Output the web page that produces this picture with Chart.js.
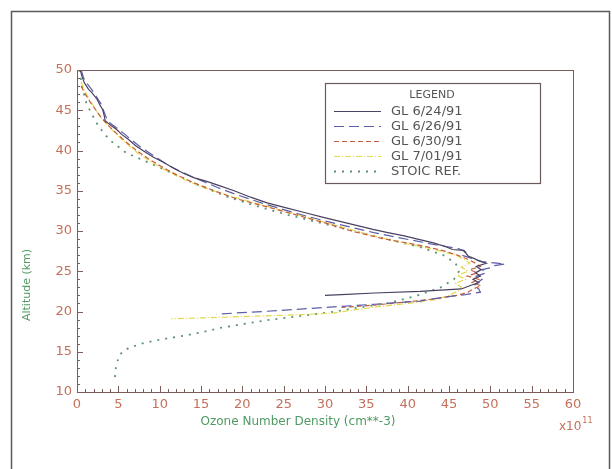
<!DOCTYPE html>
<html>
<head>
<meta charset="utf-8">
<script src="https://cdn.jsdelivr.net/npm/chart.js@4"></script>
<style>
  html, body { margin: 0; padding: 0; background: #fff; }
  #wrap { position: relative; width: 612px; height: 469px; }
</style>
</head>
<body>
<div id="wrap"><canvas id="c" width="612" height="469"></canvas></div>
<script>
// ozone profiles, density in 1e11 cm^-3, altitude in km
const labels = ["GL 6/24/91", "GL 6/26/91", "GL 6/30/91", "GL 7/01/91", "STOIC REF."];

const alt0624 = [50, 49.2, 48.4, 47.6, 47.2, 46.4, 45.6, 45.1, 44.3, 43.7, 43.2, 42.6, 42.0, 41.4, 40.6, 39.9, 39.2, 38.5, 37.8, 37.2, 36.6, 36.2, 35.6, 35.0, 34.2, 33.5, 32.9, 32.3, 31.7, 31.2, 30.7, 30.2, 29.8, 29.4, 29.0, 28.55, 28.3, 28.1, 27.7, 27.6, 26.9, 26.6, 26.25, 26.0, 25.6, 25.2, 24.8, 24.4, 24.0, 23.6, 23.2, 22.8, 22.5, 22.3, 22.1, 22.0];
const dens0624 = [0.4, 0.6, 0.9, 1.4, 1.8, 2.4, 2.8, 3.1, 3.3, 3.4, 4.0, 4.8, 5.4, 6.2, 7.1, 8.1, 9.2, 10.5, 11.7, 12.8, 14.2, 15.6, 17.3, 19.0, 21.0, 23.0, 25.2, 27.5, 29.8, 31.8, 33.8, 35.8, 37.6, 39.6, 41.2, 43.0, 43.8, 44.5, 45.4, 46.8, 47.3, 48.0, 48.7, 49.5, 48.3, 48.9, 48.2, 48.8, 47.9, 48.6, 47.5, 46.5, 41.5, 36.0, 32.0, 30.0];

const alt0626 = [50, 49.0, 48.2, 47.4, 46.6, 45.8, 45.0, 44.2, 43.5, 42.8, 42.0, 41.3, 40.5, 39.8, 39.0, 38.2, 37.5, 36.8, 36.1, 35.4, 34.7, 34.0, 33.3, 32.6, 31.9, 31.2, 30.5, 29.8, 29.2, 28.6, 28.2, 27.8, 27.4, 27.0, 26.6, 26.2, 25.9, 25.7, 25.5, 25.2, 24.8, 24.4, 24.0, 23.6, 23.2, 22.8, 22.4, 22.1, 21.8, 21.3, 20.9, 20.6, 20.3, 20.0, 19.8, 19.65];
const dens0626 = [0.5, 0.8, 1.3, 1.9, 2.4, 2.9, 3.2, 3.5, 3.9, 4.8, 5.8, 6.6, 7.6, 8.6, 9.8, 11.0, 12.3, 13.8, 15.4, 17.0, 18.8, 20.8, 22.9, 25.2, 27.6, 30.2, 33.0, 35.9, 38.8, 41.8, 43.8, 46.2, 47.0, 46.5, 47.8, 49.0, 51.8, 50.5, 50.3, 49.0, 49.5, 48.3, 49.0, 48.5, 48.0, 48.6, 48.8, 47.0, 44.5, 41.5, 36.0, 31.5, 27.0, 22.5, 19.0, 16.9];

const alt0630 = [48.0, 47.0, 46.0, 45.0, 44.0, 43.0, 42.0, 41.0, 40.0, 39.0, 38.0, 37.0, 36.0, 35.0, 34.0, 33.0, 32.0, 31.0, 30.0, 29.0, 28.5, 28.0, 27.5, 27.0, 26.5, 26.0, 25.6, 25.2, 24.8, 24.4, 24.0, 23.6, 23.2, 22.8, 22.4, 22.0, 21.6, 21.2, 20.8, 20.5];
const dens0630 = [0.5, 1.0, 1.6, 2.3, 3.0, 3.9, 4.9, 6.0, 7.2, 8.6, 10.2, 12.0, 14.1, 16.6, 19.3, 23.0, 26.5, 30.0, 33.2, 37.2, 40.0, 42.5, 44.5, 46.0, 47.3, 48.2, 48.8, 47.5, 48.4, 47.2, 48.6, 47.8, 48.9, 47.9, 47.3, 46.0, 43.5, 40.0, 36.0, 32.0];

const alt0701 = [48.5, 47.5, 46.5, 45.5, 44.5, 43.5, 42.5, 41.5, 40.5, 39.5, 38.5, 37.5, 36.5, 35.5, 34.5, 33.5, 32.5, 31.5, 30.5, 29.5, 28.5, 28.0, 27.5, 27.0, 26.5, 26.0, 25.5, 25.0, 24.5, 24.0, 23.5, 23.0, 22.5, 22.0, 21.5, 21.0, 20.6, 20.2, 19.8, 19.6, 19.4, 19.2, 19.1];
const dens0701 = [0.5, 0.9, 1.4, 2.0, 2.6, 3.4, 4.3, 5.3, 6.4, 7.6, 9.1, 10.8, 12.8, 15.0, 18.0, 21.5, 25.0, 28.5, 32.0, 35.5, 39.5, 42.0, 44.0, 45.8, 46.8, 47.5, 46.5, 47.3, 46.0, 47.0, 45.8, 46.5, 46.0, 45.0, 43.5, 40.0, 36.5, 33.5, 31.0, 27.0, 21.0, 15.0, 11.4];

const altStoic = [50, 48, 46, 45.1, 43, 41.3, 39.7, 37.9, 36.0, 34.3, 33.1, 32, 31, 30, 29, 28, 27, 26, 25, 24, 23, 22, 21, 20.4, 20.0, 19.5, 19.0, 18.5, 18.0, 17.5, 17.0, 16.5, 16.0, 15.5, 15.0, 14.5, 14.0, 13.0, 12.0, 11.1];
const densStoic = [0.3, 0.6, 1.1, 1.5, 2.6, 3.95, 5.96, 10.0, 14.0, 18.05, 21.7, 25.5, 29.5, 33.5, 37.5, 41.5, 44.3, 45.8, 46.2, 45.6, 44.0, 41.2, 37.5, 33.5, 31.3, 27.5, 23.5, 20.5, 17.5, 15.4, 13.0, 10.0, 7.8, 6.3, 5.5, 5.1, 4.95, 4.7, 4.6, 4.55];

const xTicks = { min: 0, max: 60, step: 5, minor: 1 };
const yTicks = { min: 10, max: 50, step: 5, minor: 1 };

const axisColor = "#7a5c5a";
const tickColor = "#c4705a";
const titleColor = "#4f9a62";
const fontFamily = "'DejaVu Sans', sans-serif";

function pts(xs, ys) {
  return xs.map((x, i) => ({ x: x, y: ys[i] }));
}

function series(label, xs, ys, color, dash, width) {
  return {
    label: label,
    data: pts(xs, ys),
    showLine: true,
    borderColor: color,
    backgroundColor: color,
    borderWidth: width || 1.2,
    borderDash: dash,
    pointRadius: 0,
    tension: 0,
  };
}

// frame, inward ticks, titles, boxed legend
const decor = {
  id: "decor",
  beforeDraw(chart) {
    const ctx = chart.ctx;
    ctx.save();
    ctx.strokeStyle = "#5a5a5a";
    ctx.lineWidth = 1.5;
    ctx.beginPath();
    ctx.moveTo(11.5, 480);
    ctx.lineTo(11.5, 11.5);
    ctx.lineTo(609.5, 11.5);
    ctx.lineTo(609.5, 480);
    ctx.stroke();
    ctx.restore();
  },
  afterDraw(chart) {
    const ctx = chart.ctx;
    const a = chart.chartArea;
    const sx = chart.scales.x, sy = chart.scales.y;
    ctx.save();
    ctx.strokeStyle = axisColor;
    ctx.lineWidth = 1;
    ctx.strokeRect(Math.round(a.left) + 0.5, Math.round(a.top) + 0.5, Math.round(a.right - a.left), Math.round(a.bottom - a.top));

    ctx.beginPath();
    for (let v = xTicks.min; v <= xTicks.max; v += xTicks.minor) {
      const px = Math.round(sx.getPixelForValue(v)) + 0.5;
      const len = v % xTicks.step === 0 ? 6 : 3;
      ctx.moveTo(px, a.bottom);
      ctx.lineTo(px, a.bottom - len);
    }
    for (let v = yTicks.min; v <= yTicks.max; v += yTicks.minor) {
      const py = Math.round(sy.getPixelForValue(v)) + 0.5;
      const len = v % yTicks.step === 0 ? 6 : 3;
      ctx.moveTo(a.left, py);
      ctx.lineTo(a.left + len, py);
    }
    ctx.stroke();

    // axis titles
    ctx.fillStyle = titleColor;
    ctx.font = "12px " + fontFamily;
    ctx.textAlign = "center";
    ctx.textBaseline = "middle";
    ctx.fillText("Ozone Number Density (cm**-3)", 298, 422);
    ctx.save();
    ctx.translate(27, 285);
    ctx.rotate(-Math.PI / 2);
    ctx.font = "11px " + fontFamily;
    ctx.fillText("Altitude (km)", 0, 0);
    ctx.restore();

    // x10^11 multiplier
    ctx.fillStyle = tickColor;
    ctx.textAlign = "left";
    ctx.font = "12px " + fontFamily;
    ctx.fillText("x10", 559, 427);
    const w = ctx.measureText("x10").width;
    ctx.font = "8px " + fontFamily;
    ctx.fillText("11", 559 + w + 1, 421);

    // legend box
    const lx = 325, ly = 83, lw = 215, lh = 100;
    ctx.strokeStyle = "#6a5a5a";
    ctx.lineWidth = 1.2;
    ctx.strokeRect(lx + 0.5, ly + 0.5, lw, lh);
    ctx.fillStyle = "#555";
    ctx.font = "11px " + fontFamily;
    ctx.textAlign = "center";
    ctx.fillText("LEGEND", 432, 95);
    ctx.textAlign = "left";
    ctx.font = "13px " + fontFamily;
    chart.data.datasets.forEach((ds, i) => {
      const yy = 111 + i * 15;
      ctx.save();
      ctx.strokeStyle = ds.borderColor;
      ctx.lineWidth = ds.borderWidth;
      ctx.setLineDash(ds.borderDash || []);
      ctx.beginPath();
      ctx.moveTo(334, yy + 0.5);
      ctx.lineTo(381, yy + 0.5);
      ctx.stroke();
      ctx.restore();
      ctx.fillStyle = "#555";
      ctx.fillText(ds.label, 391, yy + 1);
    });
    ctx.restore();
  },
};

new Chart(document.getElementById("c"), {
  type: "scatter",
  data: {
    datasets: [
      series(labels[0], dens0624, alt0624, "#4b4160", []),
      series(labels[1], dens0626, alt0626, "#5c5ea8", [10, 5]),
      series(labels[2], dens0630, alt0630, "#c95c3c", [5, 3]),
      series(labels[3], dens0701, alt0701, "#e4d84a", [6, 2, 1, 2]),
      series(labels[4], densStoic, altStoic, "#5f9475", [2, 6], 1.8),
    ],
  },
  options: {
    responsive: false,
    animation: false,
    layout: { padding: { left: 0, right: 39, top: 70, bottom: 0 } },
    scales: {
      x: {
        type: "linear",
        min: xTicks.min,
        max: xTicks.max,
        afterFit: (s) => { s.height = 77; },
        ticks: { stepSize: xTicks.step, color: tickColor, padding: 5, font: { family: fontFamily, size: 13 } },
        grid: { display: false, drawTicks: false },
        border: { display: false },
      },
      y: {
        type: "linear",
        min: yTicks.min,
        max: yTicks.max,
        afterFit: (s) => { s.width = 77; },
        ticks: { stepSize: yTicks.step, color: tickColor, padding: 5, font: { family: fontFamily, size: 13 } },
        grid: { display: false, drawTicks: false },
        border: { display: false },
      },
    },
    plugins: { legend: { display: false }, tooltip: { enabled: false } },
  },
  plugins: [decor],
});
</script>
</body>
</html>
